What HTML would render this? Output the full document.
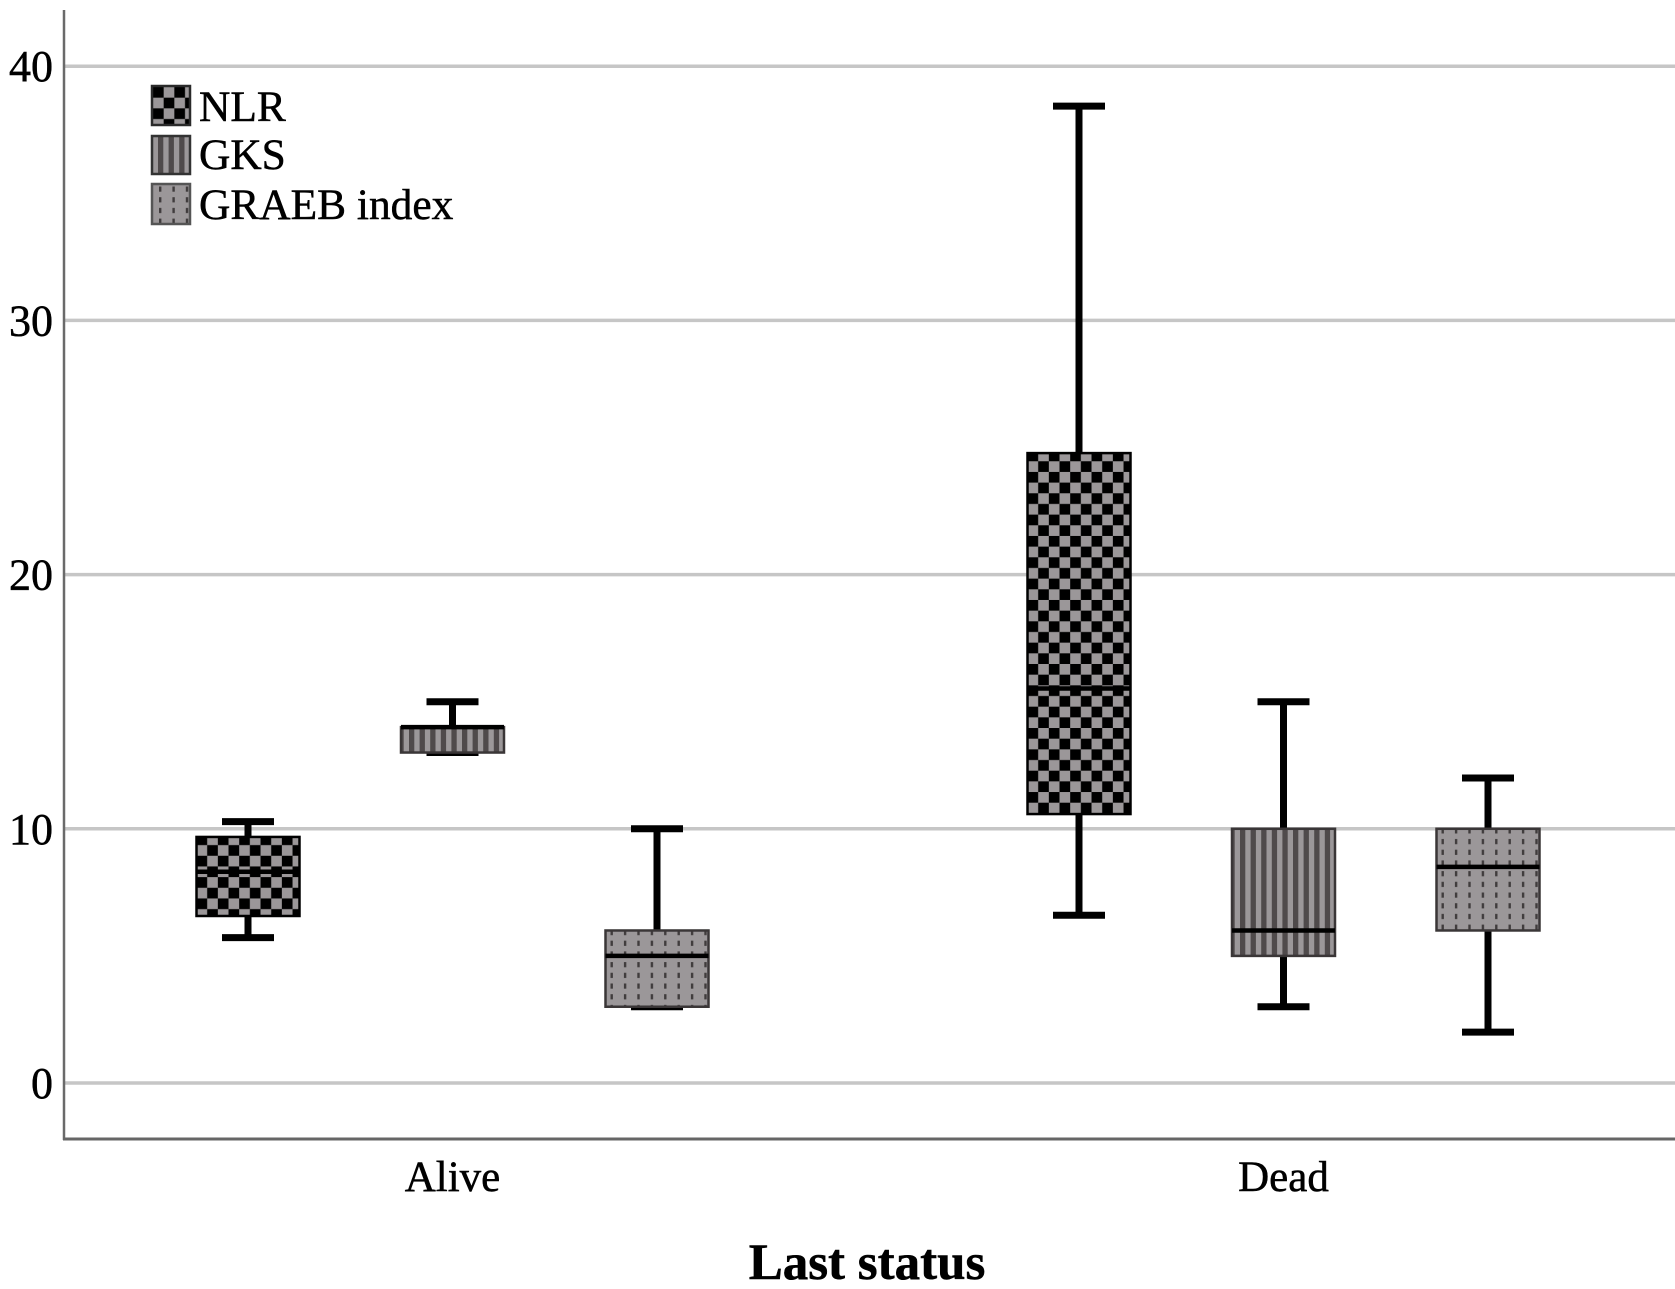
<!DOCTYPE html>
<html lang="en">
<head>
<meta charset="utf-8">
<title>Box plot of NLR, GKS and GRAEB index by last status</title>
<style>
html,body{margin:0;padding:0;background:#fff;}
svg{display:block;font-family:"Liberation Serif",serif;fill:#000;}
svg text{stroke:#000;stroke-width:0.5px;}
</style>
</head>
<body>
<svg id="chart" xmlns="http://www.w3.org/2000/svg" width="1675" height="1289" viewBox="0 0 1675 1289">
  <defs>
    <pattern id="tpl-0" patternUnits="userSpaceOnUse" width="21.34" height="21.34">
      <rect width="21.34" height="21.34" fill="#9b9799"/>
      <rect width="10.67" height="10.67" fill="#000"/>
      <rect x="10.67" y="10.67" width="10.67" height="10.67" fill="#000"/>
    </pattern>
    <pattern id="tpl-1" patternUnits="userSpaceOnUse" width="10.6" height="10.6">
      <rect width="10.6" height="10.6" fill="#9b9799"/>
      <rect width="5.3" height="10.6" fill="#4f4a4b"/>
    </pattern>
    <pattern id="tpl-2" patternUnits="userSpaceOnUse" width="13.4" height="10.7">
      <rect width="13.4" height="10.7" fill="#9b9799"/>
      <rect x="0" y="2.5" width="2.4" height="5.2" fill="#403c3d"/>
    </pattern>
  </defs>
  <g id="grid"></g>
  <g id="boxes"></g>
  <g id="axes">
    <line x1="64" y1="10" x2="64" y2="1140" stroke="#6a6a6a" stroke-width="2.5"/>
    <line x1="63" y1="1139" x2="1675" y2="1139" stroke="#666" stroke-width="3"/>
  </g>
  <g id="yticks"></g>
  <g id="xticks"></g>
  <text x="867" y="1279" font-size="51" font-weight="bold" text-anchor="middle">Last status</text>
  <g>
    <g>
      <rect id="sw0" x="152" y="86" width="38" height="39" stroke="#2a2a2a" stroke-width="2.5"/>
      <text x="199" y="121" font-size="43.4">NLR</text>
    </g>
    <g>
      <rect id="sw1" x="152" y="136" width="38" height="38" stroke="#333" stroke-width="2.5"/>
      <text x="199" y="169" font-size="43.4">GKS</text>
    </g>
    <g>
      <rect id="sw2" x="152" y="184" width="38" height="40" stroke="#555" stroke-width="2.5"/>
      <text x="199" y="219" font-size="43.4">GRAEB index</text>
    </g>
  </g>
</svg>
<script>
// Chart data: rows are categories (Alive, Dead), columns are series (NLR, GKS, GRAEB index)
const categories = ["Alive", "Dead"];
const seriesNames = ["NLR", "GKS", "GRAEB index"];
const yTickLabels = [0, 10, 20, 30, 40];
const whiskerHigh = [[10.28, 15, 10], [38.43, 15, 12]];
const q3Values = [[9.68, 14, 6], [24.78, 10, 10]];
const medianValues = [[8.31, 14, 5], [15.52, 6, 8.5]];
const q1Values = [[6.57, 13, 3], [10.58, 5, 6]];
const whiskerLow = [[5.72, 13, 3], [6.6, 3, 2]];

const NS = "http://www.w3.org/2000/svg";
const svg = document.getElementById("chart");
const defs = svg.querySelector("defs");

// Axis functions
function yScale(v) { return 1083 - 25.42 * v; }
function categoryCenter(c) { return 452.5 + 831 * c; }
function seriesCenter(c, s) { return categoryCenter(c) + (s - 1) * 204.5; }

const BOX_W = 103;
const CAP_W = 52;
const boxStroke = ["#000", "#3a3637", "#3a3637"];
const patternOffset = [[0, -2.5], [8, 0], [5, -3]];

function el(tag, attrs, parent) {
  const n = document.createElementNS(NS, tag);
  for (const k in attrs) n.setAttribute(k, attrs[k]);
  parent.appendChild(n);
  return n;
}

function makePattern(s, x, y, id) {
  const p = document.getElementById("tpl-" + s).cloneNode(true);
  p.setAttribute("id", id);
  p.setAttribute("patternTransform", "translate(" + x + " " + y + ")");
  defs.appendChild(p);
  return "url(#" + id + ")";
}

// Gridlines and y tick labels
const gridG = document.getElementById("grid");
const yG = document.getElementById("yticks");
yTickLabels.forEach(function (t) {
  const line = el("line", { x1: 64, x2: 1675, y1: yScale(t), y2: yScale(t), stroke: "#c6c6c6", "stroke-width": 3.5 }, gridG);
  
  
  const label = el("text", { x: 53, y: yScale(t) + 15, "font-size": 44, "text-anchor": "end" }, yG);
  label.textContent = String(t);
  
  
});

// Category labels
const xG = document.getElementById("xticks");
categories.forEach(function (name, c) {
  const label = el("text", { x: categoryCenter(c), y: 1191, "font-size": 43, "text-anchor": "middle" }, xG);
  label.textContent = name;
  
  
});

// Boxes
const boxG = document.getElementById("boxes");
categories.forEach(function (cat, c) {
  seriesNames.forEach(function (ser, s) {
    const cx = seriesCenter(c, s);
    const g = el("g", {}, boxG);
    
    

    const whisker = el("line", { x1: cx, x2: cx, y1: yScale(whiskerHigh[c][s]), y2: yScale(whiskerLow[c][s]), stroke: "#000", "stroke-width": 7 }, g);
    
    

    const capTop = el("line", { x1: cx - CAP_W / 2, x2: cx + CAP_W / 2, y1: yScale(whiskerHigh[c][s]), y2: yScale(whiskerHigh[c][s]), stroke: "#000", "stroke-width": 7 }, g);
    
    

    const capLow = el("line", { x1: cx - CAP_W / 2, x2: cx + CAP_W / 2, y1: yScale(whiskerLow[c][s]), y2: yScale(whiskerLow[c][s]), stroke: "#000", "stroke-width": 7 }, g);
    
    

    const left = cx - BOX_W / 2;
    const top = yScale(q3Values[c][s]);
    const bottom = yScale(q1Values[c][s]);
    const fill = makePattern(s, left + patternOffset[s][0], top + patternOffset[s][1], "fill-" + c + "-" + s);
    const box = el("rect", { x: left, y: top, width: BOX_W, height: bottom - top, fill: fill, stroke: boxStroke[s], "stroke-width": 2.5 }, g);
    
    

    const med = el("line", { x1: left, x2: left + BOX_W, y1: yScale(medianValues[c][s]), y2: yScale(medianValues[c][s]), stroke: "#000", "stroke-width": 4.5 }, g);
    
    
  });
});

// Legend swatch fills
document.getElementById("sw0").setAttribute("fill", makePattern(0, 153, 87, "legend-fill-0"));
document.getElementById("sw1").setAttribute("fill", makePattern(1, 158, 136, "legend-fill-1"));
document.getElementById("sw2").setAttribute("fill", makePattern(2, 159, 184, "legend-fill-2"));
</script>
</body>
</html>
